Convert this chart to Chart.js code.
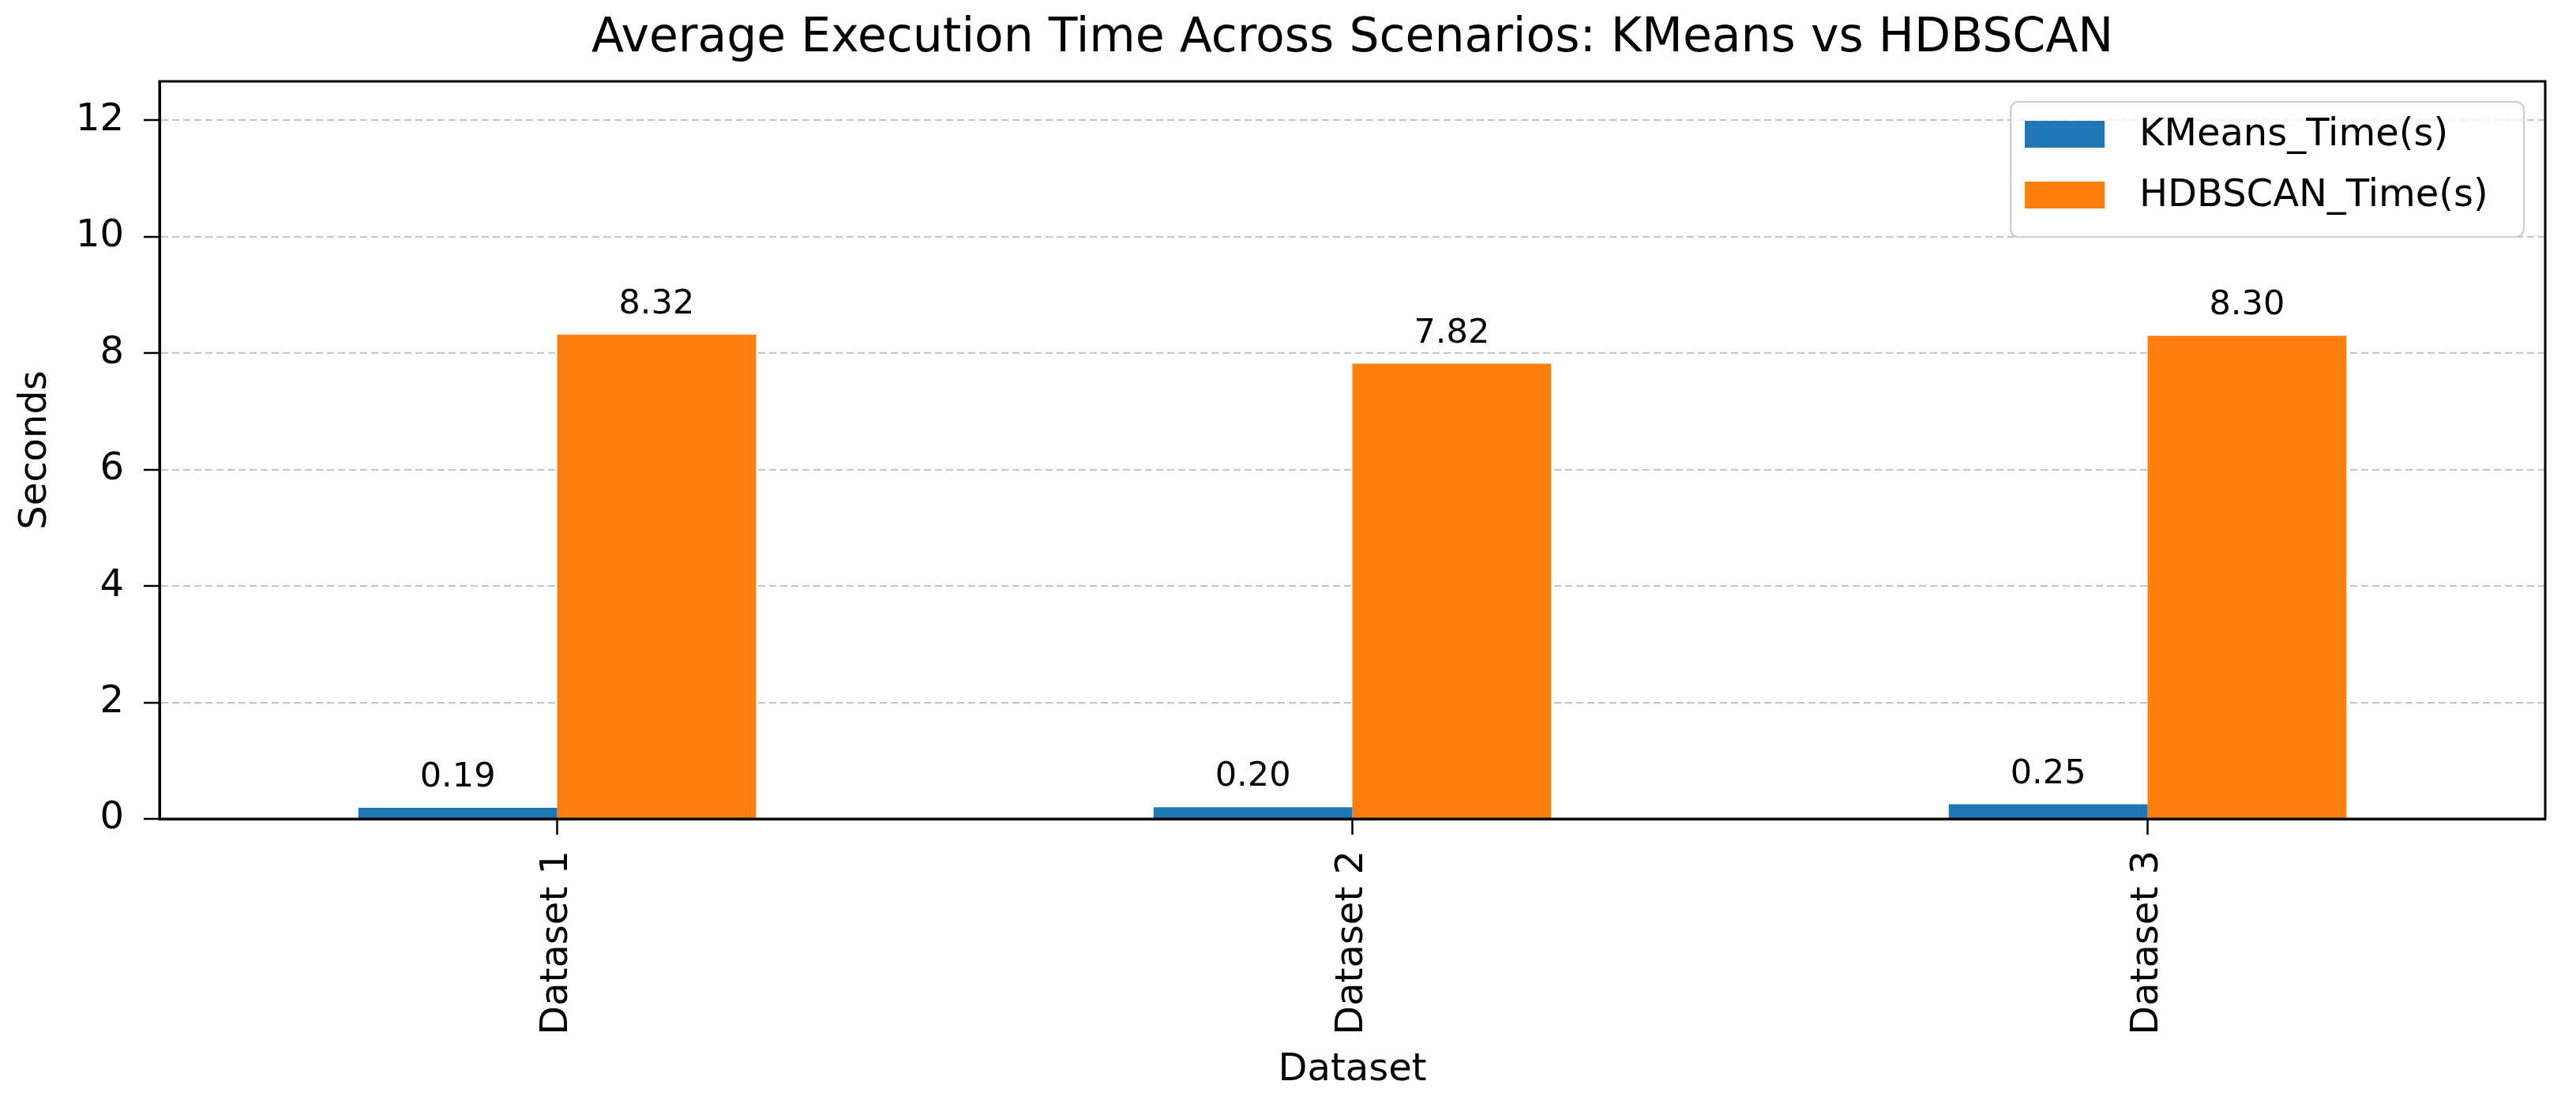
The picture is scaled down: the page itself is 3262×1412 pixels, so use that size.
<!DOCTYPE html>
<html>
<head>
<meta charset="utf-8">
<script src="https://cdn.jsdelivr.net/npm/chart.js@4.4.1/dist/chart.umd.min.js"></script>
<style>
  html, body { margin: 0; padding: 0; background: #ffffff; }
  #wrap { width: 3262px; height: 1412px; }
</style>
</head>
<body>
<div id="wrap"><canvas id="execChart" width="3262" height="1412"></canvas></div>
<script>
const categories = ['Dataset 1', 'Dataset 2', 'Dataset 3'];
const seriesNames = ['KMeans_Time(s)', 'HDBSCAN_Time(s)'];
const kmeansTimes = [0.19, 0.20, 0.25];
const hdbscanTimes = [8.32, 7.82, 8.30];
const yTicks = [0, 2, 4, 6, 8, 10, 12];
const yMax = 12.67;

const FONT = "'DejaVu Sans', sans-serif";

// frame around the plot area (matplotlib spines)
const framePlugin = {
  id: 'frame',
  afterDatasetsDraw(chart) {
    const { ctx, chartArea } = chart;
    ctx.save();
    ctx.strokeStyle = '#000000';
    ctx.lineWidth = 3;
    ctx.strokeRect(chartArea.left, chartArea.top, chartArea.right - chartArea.left, chartArea.bottom - chartArea.top);
    ctx.restore();
  }
};

// value labels above each bar
const barLabelPlugin = {
  id: 'barLabels',
  afterDatasetsDraw(chart) {
    const ctx = chart.ctx;
    ctx.save();
    ctx.font = '43px ' + FONT;
    ctx.fillStyle = '#000000';
    ctx.textAlign = 'center';
    ctx.textBaseline = 'alphabetic';
    chart.data.datasets.forEach((ds, i) => {
      chart.getDatasetMeta(i).data.forEach((bar, j) => {
        ctx.fillText(ds.data[j].toFixed(2), bar.x, bar.y - 27);
      });
    });
    ctx.restore();
  }
};

// legend inside the axes, upper right
const insideLegendPlugin = {
  id: 'insideLegend',
  afterDraw(chart) {
    const { ctx, chartArea } = chart;
    const w = 650, h = 171;
    const x = chartArea.right - 27 - w;
    const y = chartArea.top + 26;
    ctx.save();
    ctx.beginPath();
    ctx.roundRect(x, y, w, h, 10);
    ctx.fillStyle = 'rgba(255,255,255,0.8)';
    ctx.fill();
    ctx.strokeStyle = '#cccccc';
    ctx.lineWidth = 2;
    ctx.stroke();
    ctx.font = '48px ' + FONT;
    ctx.textBaseline = 'middle';
    ctx.textAlign = 'left';
    chart.data.datasets.forEach((ds, i) => {
      const cy = y + 41 + i * 77;
      ctx.fillStyle = ds.backgroundColor;
      ctx.fillRect(x + 18, cy - 17, 101, 34);
      ctx.fillStyle = '#000000';
      ctx.fillText(ds.label, x + 163, cy + 2);
    });
    ctx.restore();
  }
};

const ctx = document.getElementById('execChart').getContext('2d');

const execChart = new Chart(ctx, {
  type: 'bar',
  data: {
    labels: categories,
    datasets: [
      {
        label: seriesNames[0],
        data: kmeansTimes,
        backgroundColor: '#1f77b4',
        borderWidth: 0,
        categoryPercentage: 0.5,
        barPercentage: 1.0
      },
      {
        label: seriesNames[1],
        data: hdbscanTimes,
        backgroundColor: '#ff7f0e',
        borderWidth: 0,
        categoryPercentage: 0.5,
        barPercentage: 1.0
      }
    ]
  },
  options: {
    responsive: false,
    animation: false,
    devicePixelRatio: 1,
    layout: {
      padding: { top: 0, right: 39, bottom: 0, left: 0 }
    },
    plugins: {
      legend: { display: false },
      tooltip: { enabled: false },
      title: {
        display: true,
        text: 'Average Execution Time Across Scenarios: KMeans vs HDBSCAN',
        color: '#000000',
        fullSize: false,
        font: { family: FONT, size: 60, weight: 'normal', lineHeight: 1.2 },
        padding: { top: 13, bottom: 18 }
      }
    },
    scales: {
      x: {
        offset: true,
        afterFit(scale) { scale.height = 375; },
        grid: {
          offset: false,
          drawOnChartArea: false,
          drawTicks: true,
          tickLength: 20,
          tickColor: '#000000',
          tickWidth: 2.5
        },
        border: { display: true, color: '#000000', width: 3 },
        ticks: {
          color: '#000000',
          font: { family: FONT, size: 48 },
          minRotation: 90,
          maxRotation: 90,
          padding: 20
        },
        title: {
          display: true,
          text: 'Dataset',
          color: '#000000',
          font: { family: FONT, size: 48 },
          padding: { top: 0, bottom: 28 }
        }
      },
      y: {
        min: 0,
        max: yMax,
        afterFit(scale) { scale.width = 202; },
        afterBuildTicks(scale) {
          scale.ticks = yTicks.map(v => ({ value: v }));
        },
        grid: {
          color: 'rgba(176,176,176,0.75)',
          lineWidth: 2,
          drawTicks: true,
          tickLength: 20,
          tickColor: '#000000',
          tickWidth: 2.5,
          tickBorderDash: []
        },
        border: { display: true, color: '#000000', width: 3, dash: [9, 5] },
        ticks: {
          color: '#000000',
          font: { family: FONT, size: 48 },
          padding: 25
        },
        title: {
          display: true,
          text: 'Seconds',
          color: '#000000',
          font: { family: FONT, size: 48 },
          padding: { top: 17, bottom: 0 }
        }
      }
    }
  },
  plugins: [framePlugin, barLabelPlugin, insideLegendPlugin]
});
</script>
</body>
</html>
